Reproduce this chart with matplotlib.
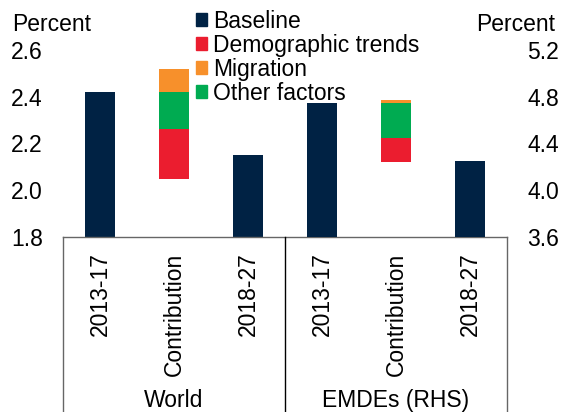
import matplotlib
matplotlib.use("Agg")
import matplotlib.pyplot as plt
from matplotlib.patches import Patch

plt.rcParams['font.family'] = ['Liberation Sans', 'DejaVu Sans']

# ---- data ----
periods = ['2013-17', 'Contribution', '2018-27']
groups = ['World', 'EMDEs (RHS)']
series = ['Baseline', 'Demographic trends', 'Migration', 'Other factors']
colors = {'Baseline': '#002244', 'Demographic trends': '#EB1D2F',
          'Migration': '#F7902B', 'Other factors': '#00AB51'}

world_baseline = [2.42, 2.15]          # 2013-17, 2018-27
emde_baseline = [4.75, 4.25]
# contribution segments: (bottom, top)
world_demog = (2.05, 2.26)
world_other = (2.26, 2.42)
world_migr = (2.42, 2.52)
emde_demog = (4.24, 4.45)
emde_other = (4.45, 4.75)
emde_migr = (4.75, 4.77)

left_ticks = [1.8, 2.0, 2.2, 2.4, 2.6]
right_ticks = [3.6, 4.0, 4.4, 4.8, 5.2]

W, H = 561, 412
FS = 16.5
fig = plt.figure(figsize=(W / 100, H / 100), dpi=100)
ax = fig.add_axes([63 / W, (H - 237) / H, 444 / W, (237 - 50) / H])
ax2 = ax.twinx()

bw = 0.4
# World (left axis)
ax.bar([0, 2], world_baseline, bottom=0, width=bw, color=colors['Baseline'])
for seg, name in [(world_demog, 'Demographic trends'), (world_other, 'Other factors'),
                  (world_migr, 'Migration')]:
    ax.bar(1, seg[1] - seg[0], bottom=seg[0], width=bw, color=colors[name])
# EMDEs (right axis)
ax2.bar([3, 5], emde_baseline, bottom=0, width=bw, color=colors['Baseline'])
for seg, name in [(emde_demog, 'Demographic trends'), (emde_other, 'Other factors'),
                  (emde_migr, 'Migration')]:
    ax2.bar(4, seg[1] - seg[0], bottom=seg[0], width=bw, color=colors[name])

ax.set_xlim(-0.5, 5.5)
ax.set_ylim(1.8, 2.6)
ax2.set_ylim(3.6, 5.2)
ax.set_yticks(left_ticks)
ax.set_yticklabels([f'{t:.1f}' for t in left_ticks])
ax2.set_yticks(right_ticks)
ax2.set_yticklabels([f'{t:.1f}' for t in right_ticks])

for a in (ax, ax2):
    for s in a.spines.values():
        s.set_visible(False)
    a.tick_params(axis='y', length=0, labelsize=FS, pad=14.4, colors='black')

ax.set_xticks(range(6))
ax.set_xticklabels(periods * 2, rotation=90, va='top', ha='center', fontsize=FS)
ax.tick_params(axis='x', length=0, pad=11)

# category box lines
lc = '#666666'
ax.plot([0, 1], [0, 0], transform=ax.transAxes, color=lc, lw=1, clip_on=False)
for xa, c in [(0, lc), (0.5, 'black'), (1, lc)]:
    ax.plot([xa, xa], [0, -1.0], transform=ax.transAxes, color=c, lw=1, clip_on=False)

for i, g in enumerate(groups):
    ax.text(1 + 3 * i, -0.872, g, transform=ax.get_xaxis_transform(),
            ha='center', va='center', fontsize=FS)

ax.text(-0.115, 1.134, 'Percent', transform=ax.transAxes, ha='left', va='center', fontsize=FS)
ax.text(1.108, 1.134, 'Percent', transform=ax.transAxes, ha='right', va='center', fontsize=FS)

handles = [Patch(color=colors[s], label=s) for s in series]
leg = ax.legend(handles=handles, loc='upper left', bbox_to_anchor=(196 / W, 1 - 10 / H),
                bbox_transform=fig.transFigure, frameon=False, fontsize=FS,
                handlelength=0.48, handleheight=0.48, handletextpad=0.26,
                labelspacing=0.04, borderpad=0, borderaxespad=0)
leg.set_zorder(10)

fig.savefig('out.png', dpi=100)
